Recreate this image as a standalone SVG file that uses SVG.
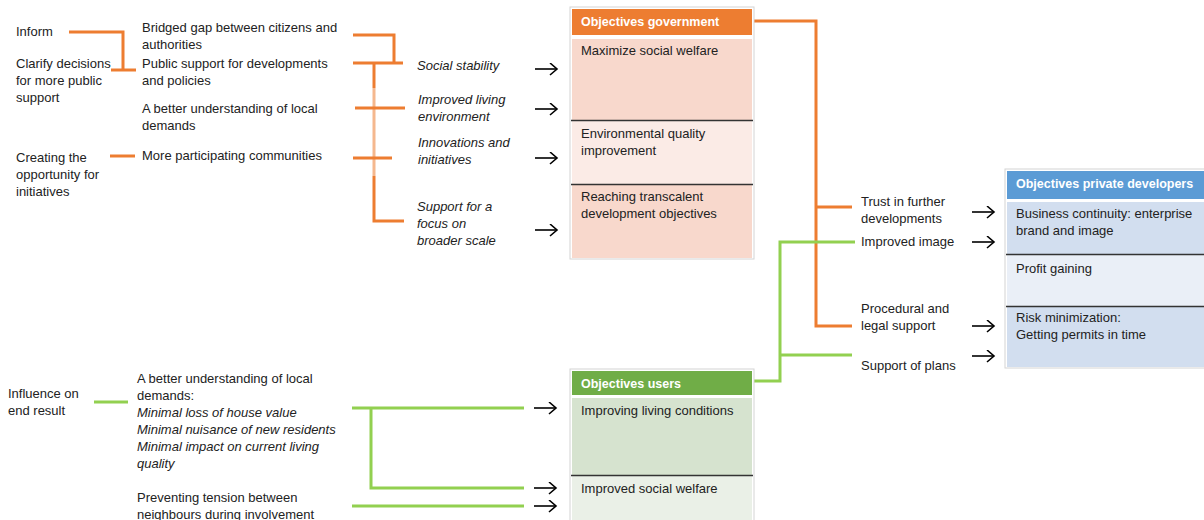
<svg xmlns="http://www.w3.org/2000/svg" width="1204" height="520" viewBox="0 0 1204 520">
  <style>
    text { font-family: "Liberation Sans", Arial, sans-serif; font-size: 13px; fill: #222; }
    .it { font-style: italic; }
    .hd { font-weight: bold; fill: #fff; font-size: 12.5px; }
    .or { stroke: #ED7D31; stroke-width: 3; fill: none; }
    .gr { stroke: #92D050; stroke-width: 3; fill: none; }
    .ar { stroke: #000; stroke-width: 1.6; fill: none; marker-end: url(#head); }
    .frame { fill: #fff; stroke: #d4d4d4; stroke-width: 1; }
    .sep { stroke: #333; stroke-width: 1.5; }
  </style>
  <defs>
    <marker id="head" markerUnits="userSpaceOnUse" markerWidth="10" markerHeight="14" refX="8" refY="6" orient="auto">
      <path d="M1,0 L8,6 L1,12" fill="none" stroke="#000" stroke-width="1.6"/>
    </marker>
  </defs>

  <!-- connectors -->
  <g id="connectors">
    <!-- government strand -->
    <path class="or" d="M69,32 H123 V70"/>
    <path class="or" d="M111,70 H136"/>
    <path class="or" d="M110,156 H135"/>
    <path class="or" d="M353,35 H394 V63"/>
    <path class="or" d="M353,63 H403"/>
    <path class="or" d="M374,63 V88"/>
    <path class="or" d="M374,88 V176" stroke-opacity="0.55"/>
    <path class="or" d="M374,176 V221 H404"/>
    <path class="or" d="M355,108 H405"/>
    <path class="or" d="M353,158 H392"/>
    <path class="or" d="M752,21 H816 V326 H852"/>
    <path class="or" d="M816,207 H852"/>
    <!-- users strand -->
    <path class="gr" d="M752,381 H780 V242 H855"/>
    <path class="gr" d="M780,355 H852"/>
    <path class="gr" d="M94,402 H128"/>
    <path class="gr" d="M352,408 H524"/>
    <path class="gr" d="M371,408 V488 H524"/>
    <path class="gr" d="M352,506 H524"/>
    <!-- arrows -->
    <line class="ar" x1="535" y1="69" x2="557" y2="69"/>
    <line class="ar" x1="535" y1="109" x2="557" y2="109"/>
    <line class="ar" x1="535" y1="158" x2="557" y2="158"/>
    <line class="ar" x1="535" y1="230" x2="557" y2="230"/>
    <line class="ar" x1="534" y1="408" x2="556" y2="408"/>
    <line class="ar" x1="534" y1="488" x2="556" y2="488"/>
    <line class="ar" x1="534" y1="506" x2="556" y2="506"/>
    <line class="ar" x1="972" y1="212" x2="994" y2="212"/>
    <line class="ar" x1="972" y1="242" x2="994" y2="242"/>
    <line class="ar" x1="972" y1="326" x2="994" y2="326"/>
    <line class="ar" x1="972" y1="356" x2="994" y2="356"/>
  </g>

  <!-- left-hand nodes, government strand -->
  <g id="inform"><text x="16" y="36">Inform</text></g>
  <g id="clarify">
    <text x="16" y="68">Clarify decisions</text>
    <text x="16" y="85">for more public</text>
    <text x="16" y="102">support</text>
  </g>
  <g id="creating">
    <text x="16" y="162">Creating the</text>
    <text x="16" y="179">opportunity for</text>
    <text x="16" y="196">initiatives</text>
  </g>
  <g id="bridged">
    <text x="142" y="32">Bridged gap between citizens and</text>
    <text x="142" y="49">authorities</text>
  </g>
  <g id="public-support">
    <text x="142" y="68">Public support for developments</text>
    <text x="142" y="85">and policies</text>
  </g>
  <g id="understanding">
    <text x="142" y="113">A better understanding of local</text>
    <text x="142" y="130">demands</text>
  </g>
  <g id="communities"><text x="142" y="160">More participating communities</text></g>

  <g id="social-stability"><text class="it" x="417" y="70">Social stability</text></g>
  <g id="living-environment">
    <text class="it" x="418" y="104">Improved living</text>
    <text class="it" x="418" y="121">environment</text>
  </g>
  <g id="innovations">
    <text class="it" x="418" y="147">Innovations and</text>
    <text class="it" x="418" y="164">initiatives</text>
  </g>
  <g id="broader-scale">
    <text class="it" x="417" y="211">Support for a</text>
    <text class="it" x="417" y="228">focus on</text>
    <text class="it" x="417" y="245">broader scale</text>
  </g>

  <!-- government objectives table -->
  <g id="objectives-government">
    <rect class="frame" x="570" y="7" width="184" height="252"/>
    <rect x="572" y="9" width="180" height="26" fill="#ED7D31"/>
    <rect x="572" y="39" width="180" height="81" fill="#F8D8CC"/>
    <rect x="572" y="121" width="180" height="63" fill="#FBEBE6"/>
    <rect x="572" y="185" width="180" height="73" fill="#F8D8CC"/>
    <line class="sep" x1="571" y1="120.5" x2="753" y2="120.5"/>
    <line class="sep" x1="571" y1="184.5" x2="753" y2="184.5"/>
    <text class="hd" x="581" y="26">Objectives government</text>
    <text x="581" y="55">Maximize social welfare</text>
    <text x="581" y="138">Environmental quality</text>
    <text x="581" y="155">improvement</text>
    <text x="581" y="201">Reaching transcalent</text>
    <text x="581" y="218">development objectives</text>
  </g>

  <!-- middle-right nodes -->
  <g id="trust">
    <text x="861" y="206">Trust in further</text>
    <text x="861" y="223">developments</text>
  </g>
  <g id="improved-image"><text x="861" y="246">Improved image</text></g>
  <g id="procedural">
    <text x="861" y="313">Procedural and</text>
    <text x="861" y="330">legal support</text>
  </g>
  <g id="support-plans"><text x="861" y="370">Support of plans</text></g>

  <!-- private developers objectives table -->
  <g id="objectives-developers">
    <rect class="frame" x="1005" y="169" width="202" height="199"/>
    <rect x="1007" y="171" width="197" height="28" fill="#5B9BD5"/>
    <rect x="1007" y="202" width="197" height="52" fill="#D2DEEF"/>
    <rect x="1007" y="255" width="197" height="51" fill="#EAEFF7"/>
    <rect x="1007" y="307" width="197" height="60" fill="#D2DEEF"/>
    <line class="sep" x1="1006" y1="254.5" x2="1204" y2="254.5"/>
    <line class="sep" x1="1006" y1="306.5" x2="1204" y2="306.5"/>
    <text class="hd" x="1016" y="188">Objectives private developers</text>
    <text x="1016" y="218">Business continuity: enterprise</text>
    <text x="1016" y="235">brand and image</text>
    <text x="1016" y="273">Profit gaining</text>
    <text x="1016" y="322">Risk minimization:</text>
    <text x="1016" y="339">Getting permits in time</text>
  </g>

  <!-- users strand, left-hand nodes -->
  <g id="influence">
    <text x="8" y="398">Influence on</text>
    <text x="8" y="415">end result</text>
  </g>
  <g id="local-demands">
    <text x="137" y="383">A better understanding of local</text>
    <text x="137" y="400">demands:</text>
    <text class="it" x="137" y="417">Minimal loss of house value</text>
    <text class="it" x="137" y="434">Minimal nuisance of new residents</text>
    <text class="it" x="137" y="451">Minimal impact on current living</text>
    <text class="it" x="137" y="468">quality</text>
  </g>
  <g id="tension">
    <text x="137" y="502">Preventing tension between</text>
    <text x="137" y="519">neighbours during involvement</text>
  </g>

  <!-- users objectives table -->
  <g id="objectives-users">
    <rect class="frame" x="570" y="369" width="184" height="152"/>
    <rect x="572" y="371" width="180" height="24" fill="#70AD47"/>
    <rect x="572" y="398" width="180" height="77" fill="#D6E3CF"/>
    <rect x="572" y="476" width="180" height="44" fill="#EAF0E7"/>
    <line class="sep" x1="571" y1="475.5" x2="753" y2="475.5"/>
    <text class="hd" x="581" y="388">Objectives users</text>
    <text x="581" y="415">Improving living conditions</text>
    <text x="581" y="493">Improved social welfare</text>
  </g>
</svg>
